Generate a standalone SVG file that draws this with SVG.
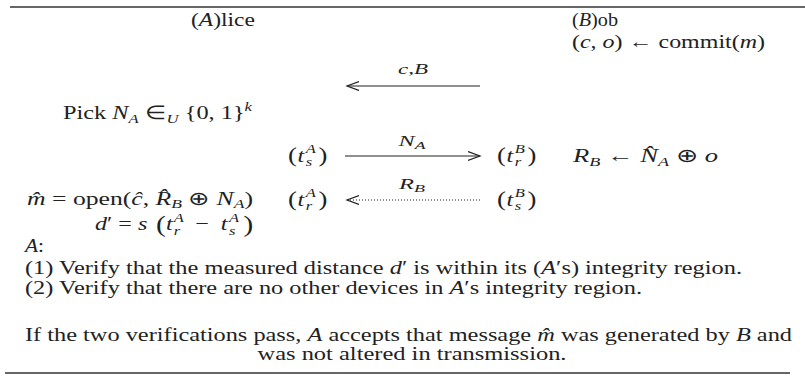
<svg xmlns="http://www.w3.org/2000/svg" width="805" height="383" viewBox="0 0 805 383">
<style>
text{font-family:"Liberation Serif","Times New Roman",serif;fill:#222;font-size:19px}
.i{font-style:italic}
.s{font-size:13px}
.lb{font-size:15px}
.ls{font-size:11px}
.p{font-size:21px}
.bp{font-size:23px}
.rule{stroke:#333;stroke-width:1.5}
.arr{stroke:#222;stroke-width:1.2;fill:none;marker-end:url(#hd)}
.dot{stroke-dasharray:1 2;stroke-width:1.1}
</style>
<defs>
<marker id="hd" markerUnits="userSpaceOnUse" markerWidth="14" markerHeight="12" refX="12" refY="5" orient="auto">
<path d="M0,0.5 L12,5 L0,9.5" fill="none" stroke="#222" stroke-width="1.2"/>
</marker>
</defs>
<line class="rule" x1="10" y1="7" x2="805" y2="7"/>
<line class="rule" x1="5" y1="373" x2="790" y2="373"/>
<g id="alice"><text x="191" y="26" textLength="64" lengthAdjust="spacingAndGlyphs">(<tspan class="i">A</tspan>)lice</text></g>
<g id="bob"><text x="572" y="26" textLength="46" lengthAdjust="spacingAndGlyphs">(<tspan class="i">B</tspan>)ob</text></g>
<g id="commit"><text x="572" y="48" textLength="193" lengthAdjust="spacingAndGlyphs">(<tspan class="i">c</tspan>, <tspan class="i">o</tspan>) ← commit(<tspan class="i">m</tspan>)</text></g>
<g id="pick"><text x="63" y="119" textLength="189" lengthAdjust="spacingAndGlyphs">Pick <tspan class="i">N</tspan><tspan class="i s" dy="4">A</tspan><tspan dy="-4"> ∈</tspan><tspan class="i s" dy="4">U</tspan><tspan dy="-4"> {0, 1}</tspan><tspan class="i s" dy="-8">k</tspan></text></g>
<g id="tsA" transform="translate(288 0) scale(1.27 1)"><text y="162"><tspan x="0" class="p">(</tspan><tspan x="7.5" class="i">t</tspan><tspan x="14" y="153" class="i s">A</tspan><tspan x="14" y="166" class="i s">s</tspan><tspan x="24" y="162" class="p">)</tspan></text></g>
<g id="trB" transform="translate(497 0) scale(1.27 1)"><text y="162"><tspan x="0" class="p">(</tspan><tspan x="7.5" class="i">t</tspan><tspan x="14" y="153" class="i s">B</tspan><tspan x="14" y="166" class="i s">r</tspan><tspan x="24" y="162" class="p">)</tspan></text></g>
<g id="rb"><text x="573" y="162" textLength="145" lengthAdjust="spacingAndGlyphs"><tspan class="i">R</tspan><tspan class="i s" dy="4">B</tspan><tspan dy="-4"> ← </tspan><tspan class="i">N̂</tspan><tspan class="i s" dy="4">A</tspan><tspan dy="-4"> ⊕ </tspan><tspan class="i">o</tspan></text></g>
<g id="mhat"><text x="27" y="205" textLength="226" lengthAdjust="spacingAndGlyphs"><tspan class="i">m̂</tspan> = open(<tspan class="i">ĉ</tspan>, <tspan class="i">R̂</tspan><tspan class="i s" dy="3">B</tspan><tspan dy="-3"> ⊕ </tspan><tspan class="i">N</tspan><tspan class="i s" dy="3">A</tspan><tspan dy="-3">)</tspan></text></g>
<g id="trA" transform="translate(288 0) scale(1.27 1)"><text y="206"><tspan x="0" class="p">(</tspan><tspan x="7.5" class="i">t</tspan><tspan x="14" y="197" class="i s">A</tspan><tspan x="14" y="210" class="i s">r</tspan><tspan x="24" y="206" class="p">)</tspan></text></g>
<g id="tsB" transform="translate(497 0) scale(1.27 1)"><text y="206"><tspan x="0" class="p">(</tspan><tspan x="7.5" class="i">t</tspan><tspan x="14" y="197" class="i s">B</tspan><tspan x="14" y="210" class="i s">s</tspan><tspan x="24" y="206" class="p">)</tspan></text></g>
<g id="dprime" transform="translate(95 0) scale(1.27 1)"><text y="230"><tspan x="0" class="i">d</tspan><tspan>′ = </tspan><tspan class="i">s</tspan><tspan x="48" y="232" class="bp">(</tspan><tspan x="56" y="230" class="i">t</tspan><tspan x="62" y="222" class="i s">A</tspan><tspan x="62" y="235" class="i s">r</tspan><tspan x="79" y="230">−</tspan><tspan x="99" class="i">t</tspan><tspan x="105.5" y="222" class="i s">A</tspan><tspan x="105.5" y="235" class="i s">s</tspan><tspan x="117" y="232" class="bp">)</tspan></text></g>
<g id="averify">
<text x="25" y="252" textLength="19" lengthAdjust="spacingAndGlyphs"><tspan class="i">A</tspan>:</text>
<text x="25" y="274" textLength="717" lengthAdjust="spacingAndGlyphs">(1) Verify that the measured distance <tspan class="i">d</tspan>′ is within its (<tspan class="i">A</tspan>′s) integrity region.</text>
<text x="25" y="294" textLength="617" lengthAdjust="spacingAndGlyphs">(2) Verify that there are no other devices in <tspan class="i">A</tspan>′s integrity region.</text>
</g>
<g id="conclusion">
<text x="25" y="341" textLength="767" lengthAdjust="spacingAndGlyphs">If the two verifications pass, <tspan class="i">A</tspan> accepts that message <tspan class="i">m̂</tspan> was generated by <tspan class="i">B</tspan> and</text>
<text x="412" y="360" text-anchor="middle" textLength="309" lengthAdjust="spacingAndGlyphs">was not altered in transmission.</text>
</g>
<g id="connectors">
<line class="arr" x1="480" y1="86" x2="347" y2="86"/>
<text class="lb" x="413" y="74" text-anchor="middle" textLength="30" lengthAdjust="spacingAndGlyphs"><tspan class="i">c</tspan>,<tspan class="i">B</tspan></text>
<line class="arr" x1="345" y1="156" x2="480" y2="156"/>
<text class="lb" x="412" y="146" text-anchor="middle" textLength="27" lengthAdjust="spacingAndGlyphs"><tspan class="i">N</tspan><tspan class="i ls" dy="3">A</tspan></text>
<line class="arr dot" x1="480" y1="200" x2="347" y2="200"/>
<text class="lb" x="412" y="189" text-anchor="middle" textLength="26" lengthAdjust="spacingAndGlyphs"><tspan class="i">R</tspan><tspan class="i ls" dy="3">B</tspan></text>
</g>
</svg>
